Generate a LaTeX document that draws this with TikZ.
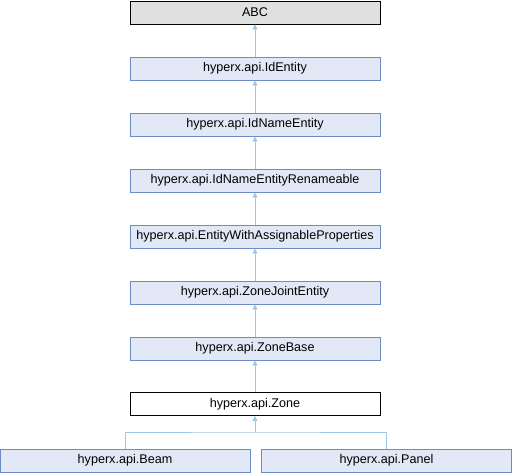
\documentclass[tikz,border=0pt]{standalone}
\usepackage{fontspec}
\setmainfont{Liberation Sans}
\usetikzlibrary{arrows.meta}
\definecolor{boxfill}{HTML}{E2E8F5}
\definecolor{boxdraw}{HTML}{6A8DC8}
\definecolor{edge}{HTML}{9CC8E8}
\definecolor{abcfill}{HTML}{E0E0E0}
\tikzset{
  cls/.style={draw=boxdraw, fill=boxfill, line width=0.9pt, minimum width=250pt, minimum height=23pt, inner sep=0pt, font=\fontsize{12.6}{14}\selectfont},
  top/.style={cls, draw=black, fill=abcfill},
  cur/.style={cls, draw=black, fill=white},
  inh/.style={draw=edge, line width=0.9pt, -{Triangle[width=5pt,length=5pt,fill=edge]}}
}
\begin{document}
\begin{tikzpicture}[x=1pt,y=-1pt]
\useasboundingbox (0,0) rectangle (512,472);
\node[top] (abc) at (255,12.5) {ABC};
\node[cls] (ide) at (255,68.5) {hyperx.api.IdEntity};
\node[cls] (idn) at (255,124.5) {hyperx.api.IdNameEntity};
\node[cls] (idr) at (255,180.5) {hyperx.api.IdNameEntityRenameable};
\node[cls] (ewp) at (255,236.5) {hyperx.api.EntityWithAssignableProperties};
\node[cls] (zje) at (255,292.5) {hyperx.api.ZoneJointEntity};
\node[cls] (zb) at (255,348.5) {hyperx.api.ZoneBase};
\node[cur] (z) at (255,404) {hyperx.api.Zone};
\node[cls] (beam) at (125,460.5) {hyperx.api.Beam};
\node[cls] (panel) at (386.5,460.5) {hyperx.api.Panel};
\draw[inh] (ide) -- (abc);
\draw[inh] (idn) -- (ide);
\draw[inh] (idr) -- (idn);
\draw[inh] (ewp) -- (idr);
\draw[inh] (zje) -- (ewp);
\draw[inh] (zb) -- (zje);
\draw[inh] (z) -- (zb);
\coordinate (j) at (255,432);
\draw[draw=edge, line width=0.9pt] (beam.north) |- (j) -| (panel.north);
\draw[inh] (j) -- (z);
\end{tikzpicture}
\end{document}
